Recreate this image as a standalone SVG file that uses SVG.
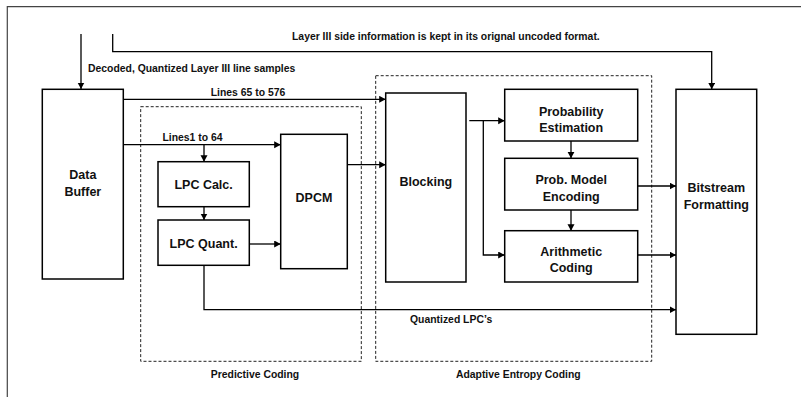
<svg xmlns="http://www.w3.org/2000/svg" width="801" height="397" viewBox="0 0 801 397">
<defs>
<marker id="ah" markerUnits="userSpaceOnUse" markerWidth="8" markerHeight="8" refX="6.5" refY="3.5" orient="auto">
<path d="M0,0 L6.5,3.5 L0,7 Z" fill="#000"/>
</marker>
</defs>
<style>
.box{fill:#fff;stroke:#000;stroke-width:1.5}
.grp{fill:none;stroke:#222;stroke-width:1;stroke-dasharray:3 2}
.c{fill:none;stroke:#000;stroke-width:1.3}
.a{marker-end:url(#ah)}
.t{font-family:"Liberation Sans",Arial,sans-serif;font-weight:bold;font-size:12.5px;fill:#111;text-anchor:middle}
.s{font-family:"Liberation Sans",Arial,sans-serif;font-weight:bold;font-size:10.4px;fill:#111}
.m{text-anchor:middle}
</style>
<rect width="801" height="397" fill="#fff"/>
<path d="M7.3,397 V6.7 H801" fill="none" stroke="#444" stroke-width="1.2"/>

<g id="predictive-coding">
<rect class="grp" x="140.7" y="106.7" width="220.6" height="254.6"/>
<text class="s m" x="255" y="378">Predictive Coding</text>
</g>
<g id="adaptive-entropy-coding">
<rect class="grp" x="375.7" y="75.7" width="276" height="285.6"/>
<text class="s m" x="518.3" y="378">Adaptive Entropy Coding</text>
</g>

<g id="connectors">
<path class="c a" d="M81,34 V89"/>
<path class="c a" d="M112.7,34 V51.7 H711.7 V89.3"/>
<path class="c a" d="M123.3,99.3 H385.7"/>
<path class="c a" d="M123.3,144.7 H280.7"/>
<path class="c a" d="M204,144.7 V161.7"/>
<path class="c a" d="M204,206.7 V220"/>
<path class="c a" d="M249.3,244 H280.7"/>
<path class="c a" d="M347.3,164.7 H385.7"/>
<path class="c a" d="M204,265.3 V309.7 H676"/>
<path class="c a" d="M469.3,120.7 H504.7"/>
<path class="c a" d="M483.3,120.7 V255 H504.7"/>
<path class="c a" d="M571,141 V158.3"/>
<path class="c a" d="M571,210 V230.7"/>
<path class="c a" d="M637.7,186 H676"/>
<path class="c a" d="M637.7,255 H676"/>
<text class="s" x="292" y="40">Layer III side information is kept in its orignal uncoded format.</text>
<text class="s" x="88" y="71.5">Decoded, Quantized Layer III line samples</text>
<text class="s m" x="248" y="95.5">Lines 65 to 576</text>
<text class="s m" x="192.5" y="140.5">Lines1 to 64</text>
<text class="s" x="410" y="323">Quantized LPC’s</text>
</g>

<g id="data-buffer">
<rect class="box" x="42.3" y="89.3" width="81" height="189.7"/>
<text class="t" x="82.8" y="179">Data</text>
<text class="t" x="82.8" y="196">Buffer</text>
</g>
<g id="lpc-calc">
<rect class="box" x="158" y="161.7" width="91.3" height="45"/>
<text class="t" x="203.6" y="189">LPC Calc.</text>
</g>
<g id="lpc-quant">
<rect class="box" x="158" y="220" width="91.3" height="45.3"/>
<text class="t" x="203.6" y="248">LPC Quant.</text>
</g>
<g id="dpcm">
<rect class="box" x="280.7" y="134.3" width="66.6" height="134.4"/>
<text class="t" x="314" y="202.3">DPCM</text>
</g>
<g id="blocking">
<rect class="box" x="385.7" y="93" width="80.3" height="189"/>
<text class="t" x="425.8" y="185.6">Blocking</text>
</g>
<g id="probability-estimation">
<rect class="box" x="504.7" y="89.3" width="133" height="51.7"/>
<text class="t" x="571.2" y="115.5">Probability</text>
<text class="t" x="571.2" y="132.3">Estimation</text>
</g>
<g id="prob-model-encoding">
<rect class="box" x="504.7" y="158.3" width="133" height="51.7"/>
<text class="t" x="571.2" y="184">Prob. Model</text>
<text class="t" x="571.2" y="200.7">Encoding</text>
</g>
<g id="arithmetic-coding">
<rect class="box" x="504.7" y="230.7" width="133" height="51.3"/>
<text class="t" x="571.2" y="255.7">Arithmetic</text>
<text class="t" x="571.2" y="272.3">Coding</text>
</g>
<g id="bitstream-formatting">
<rect class="box" x="676" y="89.3" width="80.7" height="245"/>
<text class="t" x="716.3" y="192.3">Bitstream</text>
<text class="t" x="716.3" y="209">Formatting</text>
</g>
</svg>
